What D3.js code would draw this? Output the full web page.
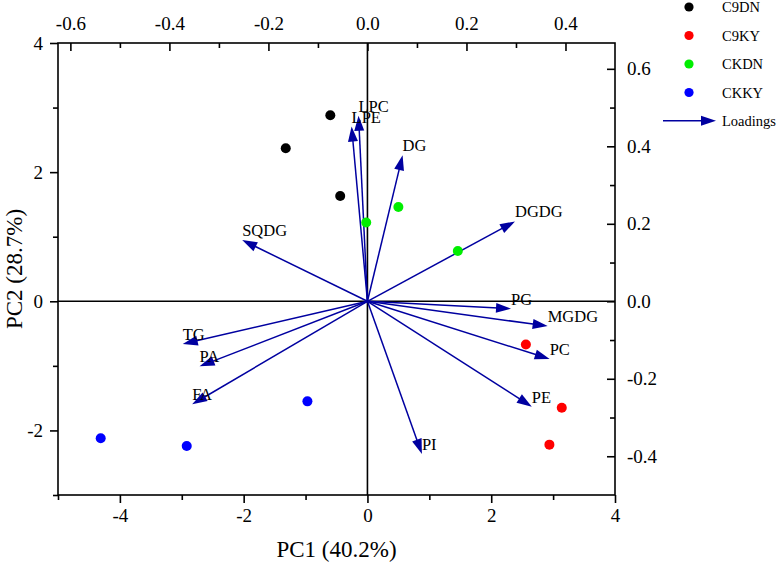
<!DOCTYPE html>
<html><head><meta charset="utf-8">
<script src="https://cdn.jsdelivr.net/npm/d3@7/dist/d3.min.js"></script>
<style>body{margin:0;background:#fff}svg{display:block}text{font-family:"Liberation Serif","Times New Roman",serif;fill:#000}</style>
</head><body><svg id="c" width="777" height="567"></svg>
<script>
// ---- data ----
const groups = ["C9DN", "C9KY", "CKDN", "CKKY"];
const scoreGroup = ["C9DN","C9DN","C9DN","C9KY","C9KY","C9KY","CKDN","CKDN","CKDN","CKKY","CKKY","CKKY"];
const scorePC1 = [-0.60, -1.32, -0.44, 2.56, 3.14, 2.94, -0.02, 0.50, 1.46, -0.97, -2.92, -4.31];
const scorePC2 = [2.88, 2.37, 1.63, -0.67, -1.65, -2.22, 1.22, 1.46, 0.78, -1.55, -2.24, -2.12];
const loadingNames = ["LPC","LPE","DG","SQDG","DGDG","PG","MGDG","PC","PE","TG","PA","FA","PI"];
const loadingPC1 = [-0.018, -0.032, 0.071, -0.253, 0.298, 0.290, 0.364, 0.368, 0.332, -0.373, -0.339, -0.354, 0.110];
const loadingPC2 = [0.479, 0.451, 0.377, 0.158, 0.206, -0.019, -0.064, -0.149, -0.272, -0.110, -0.168, -0.266, -0.394];
const bottomTicks = [-4, -2, 0, 2, 4];
const leftTicks = [-2, 0, 2, 4];
const topTicks = [-0.6, -0.4, -0.2, 0.0, 0.2, 0.4];
const rightTicks = [-0.4, -0.2, 0.0, 0.2, 0.4, 0.6];
const xLabel = "PC1 (40.2%)";
const yLabel = "PC2 (28.7%)";
const loadingsLabel = "Loadings";

// ---- styles ----
const colors = {C9DN:"#000000", C9KY:"#ff0000", CKDN:"#00ee00", CKKY:"#0000ff"};
const arrowColor = "#0000a0";

const svg = d3.select("#c");
const L = 58, R = 615, T = 43, B = 495;
const x = d3.scaleLinear().domain([-5, 4]).range([L, R]);
const y = d3.scaleLinear().domain([-3, 4]).range([B, T]);
const xT = d3.scaleLinear().domain([-5/8, 4/8]).range([L, R]);
const yR = d3.scaleLinear().domain([-3/6, 4/6]).range([B, T]);

const fmtInt = d => d3.format("d")(d).replace("\u2212","-");
const fmt1 = d => d3.format(".1f")(d).replace("\u2212","-");
function styleAxis(g, size){
  g.attr("font-family", null).attr("font-size", null);
  g.select(".domain").remove();
  g.selectAll(".tick line").attr("stroke","#000").attr("stroke-width",1.6);
  g.selectAll("text").style("font-size", size+"px").style("font-family","'Liberation Serif', serif");
}
// minor ticks
const minorB = [-5,-3,-1,1,3], minorL = [-3,-1,1,3];
const minorT = [-0.5,-0.3,-0.1,0.1,0.3], minorR = [-0.3,-0.1,0.1,0.3,0.5];

const gB = svg.append("g").attr("transform",`translate(0,${B})`)
  .call(d3.axisBottom(x).tickValues(bottomTicks).tickSize(8).tickPadding(6).tickFormat(fmtInt));
styleAxis(gB, 19);
svg.append("g").attr("transform",`translate(0,${B})`).call(d3.axisBottom(x).tickValues(minorB).tickSize(5).tickFormat(""))
  .call(g=>styleAxis(g,10));

const gL = svg.append("g").attr("transform",`translate(${L},0)`)
  .call(d3.axisLeft(y).tickValues(leftTicks).tickSize(8).tickPadding(7).tickFormat(fmtInt));
styleAxis(gL, 19);
svg.append("g").attr("transform",`translate(${L},0)`).call(d3.axisLeft(y).tickValues(minorL).tickSize(5).tickFormat(""))
  .call(g=>styleAxis(g,10));

const gT = svg.append("g").attr("transform",`translate(0,${T})`)
  .call(d3.axisTop(xT).tickValues(topTicks).tickSize(-8).tickPadding(13).tickFormat(fmt1));
styleAxis(gT, 19);
svg.append("g").attr("transform",`translate(0,${T})`).call(d3.axisTop(xT).tickValues(minorT).tickSize(-5).tickFormat(""))
  .call(g=>styleAxis(g,10));

const gR = svg.append("g").attr("transform",`translate(${R},0)`)
  .call(d3.axisRight(yR).tickValues(rightTicks).tickSize(-8).tickPadding(12).tickFormat(fmt1));
styleAxis(gR, 19);
svg.append("g").attr("transform",`translate(${R},0)`).call(d3.axisRight(yR).tickValues(minorR).tickSize(-5).tickFormat(""))
  .call(g=>styleAxis(g,10));

// frame
svg.append("rect").attr("x",L).attr("y",T).attr("width",R-L).attr("height",B-T)
  .attr("fill","none").attr("stroke","#000").attr("stroke-width",1.6);
// zero lines
svg.append("line").attr("x1",L).attr("x2",R).attr("y1",y(0)).attr("y2",y(0)).attr("stroke","#000").attr("stroke-width",1.6);
svg.append("line").attr("x1",x(0)).attr("x2",x(0)).attr("y1",T).attr("y2",B).attr("stroke","#000").attr("stroke-width",1.6);

// axis titles
svg.append("text").attr("x",(L+R)/2).attr("y",557).attr("text-anchor","middle").style("font-size","23px").text(xLabel);
svg.append("text").attr("transform",`translate(22,${(T+B)/2}) rotate(-90)`).attr("text-anchor","middle").style("font-size","23px").text(yLabel);

// loadings arrows
const headLen = 15, headHalf = 5;
function arrow(g, x0, y0, x1, y1){
  const dx = x1-x0, dy = y1-y0, len = Math.hypot(dx,dy), ux = dx/len, uy = dy/len;
  const bx = x1-ux*headLen, by = y1-uy*headLen;
  g.append("line").attr("x1",x0).attr("y1",y0).attr("x2",bx+ux*2).attr("y2",by+uy*2)
    .attr("stroke",arrowColor).attr("stroke-width",1.5);
  g.append("path").attr("d",`M${x1},${y1}L${bx-uy*headHalf},${by+ux*headHalf}L${bx+uy*headHalf},${by-ux*headHalf}Z`)
    .attr("fill",arrowColor);
}
const ga = svg.append("g");
loadingNames.forEach((n,i)=>{
  arrow(ga, xT(0), yR(0), xT(loadingPC1[i]), yR(loadingPC2[i]));
});
loadingNames.forEach((n,i)=>{
  svg.append("text").attr("x",xT(loadingPC1[i])).attr("y",yR(loadingPC2[i])-4)
    .style("font-size","16.5px").text(n);
});

// scores
svg.append("g").selectAll("circle").data(scorePC1).join("circle")
  .attr("cx",(d)=>x(d)).attr("cy",(d,i)=>y(scorePC2[i])).attr("r",5)
  .attr("fill",(d,i)=>colors[scoreGroup[i]]);

// legend
const lg = svg.append("g");
groups.forEach((gname,i)=>{
  const cy = 7 + i*28.5;
  lg.append("circle").attr("cx",689).attr("cy",cy).attr("r",4.6).attr("fill",colors[gname]);
  lg.append("text").attr("x",722).attr("y",cy+5).style("font-size","14.5px").text(gname);
});
arrow(lg, 663, 120.7, 716, 120.7);
lg.append("text").attr("x",722).attr("y",126).style("font-size","14.5px").text(loadingsLabel);
</script></body></html>
